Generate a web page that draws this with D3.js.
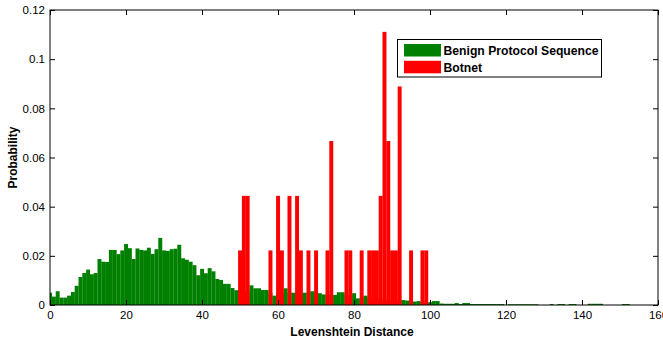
<!DOCTYPE html>
<html>
<head>
<meta charset="utf-8">
<script src="https://cdn.jsdelivr.net/npm/d3@7"></script>
<style>
  html, body { margin: 0; padding: 0; background: #fff; }
  svg { display: block; font-family: "Liberation Sans", Arial, Helvetica, sans-serif; }
</style>
</head>
<body>
<svg id="chart" width="663" height="341"></svg>
<script>
// ---- data ----
const seriesNames = ["Benign Protocol Sequence", "Botnet"];
const seriesColors = ["#008000", "#ff0000"];

// Benign: probability for Levenshtein distance 0,1,2,...
const benignValues = [
  0.0050, 0.0034, 0.0056, 0.0030, 0.0030, 0.0038, 0.0053, 0.0078, 0.0114, 0.0130,
  0.0144, 0.0125, 0.0130, 0.0187, 0.0176, 0.0175, 0.0224, 0.0224, 0.0207, 0.0222,
  0.0248, 0.0231, 0.0187, 0.0230, 0.0224, 0.0222, 0.0233, 0.0208, 0.0227, 0.0273,
  0.0222, 0.0220, 0.0227, 0.0229, 0.0245, 0.0190, 0.0184, 0.0176, 0.0162, 0.0121,
  0.0147, 0.0129, 0.0150, 0.0137, 0.0106, 0.0102, 0.0086, 0.0086, 0.0069, 0.0060,
  0.0060, 0.0058, 0.0057, 0.0080, 0.0068, 0.0068, 0.0061, 0.0061, 0.0050, 0.0038,
  0.0050, 0.0050, 0.0068, 0.0050, 0.0050, 0.0050, 0.0050, 0.0050, 0.0050, 0.0056,
  0.0050, 0.0048, 0.0043, 0.0040, 0.0040, 0.0041, 0.0052, 0.0052, 0.0040, 0.0040,
  0.0048, 0.0027, 0.0030, 0.0038, 0.0030, 0.0030, 0.0028, 0.0025, 0.0022, 0.0022,
  0.0020, 0.0020, 0.0020, 0.0020, 0.0018, 0.0015, 0.0014, 0.0016, 0.0012, 0.0012,
  0.0011, 0.0016, 0.0016, 0.0006, 0.0005, 0.0005, 0.0005, 0.0008, 0.0004, 0.0008,
  0.0008, 0.0004, 0.0004, 0.0004, 0.0004, 0.0004, 0.0004, 0.0004, 0.0004, 0.0004,
  0.0000, 0.0003, 0.0003, 0.0003, 0.0003, 0.0003, 0.0003, 0.0003, 0.0003, 0.0000,
  0.0000, 0.0000, 0.0004, 0.0000, 0.0004, 0.0004, 0.0000, 0.0004, 0.0004, 0.0000,
  0.0000, 0.0000, 0.0005, 0.0005, 0.0005, 0.0005, 0.0000, 0.0000, 0.0000, 0.0000,
  0.0000, 0.0004, 0.0004, 0.0000, 0.0000, 0.0000
];

// Botnet: distances present and their probabilities
const botnetDistances = [50, 51, 52, 58, 60, 61, 63, 65, 66, 68, 70, 73, 74, 78, 79,
  82, 84, 85, 86, 87, 88, 89, 90, 91, 92, 95, 98, 99];
const botnetValues = [0.0222, 0.0444, 0.0444, 0.0222, 0.0444, 0.0222, 0.0444, 0.0444,
  0.0222, 0.0222, 0.0222, 0.0222, 0.0667, 0.0222, 0.0222, 0.0222, 0.0222, 0.0222,
  0.0222, 0.0444, 0.1111, 0.0667, 0.0222, 0.0222, 0.0889, 0.0222, 0.0222, 0.0222];

const xTicks = [0, 20, 40, 60, 80, 100, 120, 140, 160];
const yTicks = [0, 0.02, 0.04, 0.06, 0.08, 0.1, 0.12];
const xTitle = "Levenshtein Distance";
const yTitle = "Probability";

// ---- layout ----
const L = 50, R = 658, T = 10, B = 305;
const svg = d3.select("#chart");

const x = d3.scaleLinear().domain([0, 160]).range([L, R]);
const y = d3.scaleLinear().domain([0, 0.12]).range([B, T]);

svg.append("defs").append("clipPath").attr("id", "plotclip")
  .append("rect").attr("x", L).attr("y", T).attr("width", R - L).attr("height", B - T);

const plot = svg.append("g").attr("clip-path", "url(#plotclip)");

const benign = benignValues.map((v, i) => ({ k: i, v }));
const botnet = botnetDistances.map((k, i) => ({ k, v: botnetValues[i] }));

function drawBars(data, color) {
  plot.append("g").selectAll("rect").data(data.filter(d => d.v > 0)).join("rect")
    .attr("x", d => x(d.k - 0.5))
    .attr("width", d => x(d.k + 0.5) - x(d.k - 0.5) + 0.15)
    .attr("y", d => y(d.v))
    .attr("height", d => y(0) - y(d.v))
    .attr("fill", color);
}
drawBars(benign, seriesColors[0]);
drawBars(botnet, seriesColors[1]);

// ---- axes ----
const fmtY = d => d === 0 ? "0" : d3.format("")(+d.toFixed(2));
const axisStyle = g => {
  g.selectAll(".domain").remove();
  g.selectAll(".tick line").attr("stroke", "#000");
  g.selectAll("text").attr("font-size", 11.5).attr("fill", "#000");
};

svg.append("g").attr("transform", `translate(0,${B})`)
  .call(d3.axisBottom(x).tickValues(xTicks).tickSize(-5).tickPadding(6).tickFormat(d3.format("d")))
  .call(axisStyle);
svg.append("g").attr("transform", `translate(0,${T})`)
  .call(d3.axisTop(x).tickValues(xTicks).tickSize(-5).tickFormat(""))
  .call(axisStyle);
svg.append("g").attr("transform", `translate(${L},0)`)
  .call(d3.axisLeft(y).tickValues(yTicks).tickSize(-5).tickPadding(5).tickFormat(fmtY))
  .call(axisStyle);
svg.append("g").attr("transform", `translate(${R},0)`)
  .call(d3.axisRight(y).tickValues(yTicks).tickSize(-5).tickFormat(""))
  .call(axisStyle);

// box
svg.append("rect").attr("x", L).attr("y", T).attr("width", R - L).attr("height", B - T)
  .attr("fill", "none").attr("stroke", "#000").attr("stroke-width", 1);

// titles
svg.append("text").attr("x", (L + R) / 2 - 2).attr("y", 336)
  .attr("text-anchor", "middle").attr("font-size", 12).attr("font-weight", "bold")
  .text(xTitle);
svg.append("text").attr("transform", `translate(17,${(T + B) / 2}) rotate(-90)`)
  .attr("text-anchor", "middle").attr("font-size", 12).attr("font-weight", "bold")
  .text(yTitle);

// ---- legend ----
const lg = svg.append("g");
lg.append("rect").attr("x", 397.5).attr("y", 39.5).attr("width", 204).attr("height", 37.5)
  .attr("fill", "#fff").attr("stroke", "#000").attr("stroke-width", 1);
seriesNames.forEach((name, i) => {
  lg.append("rect").attr("x", 404).attr("y", 44 + i * 16.8).attr("width", 37).attr("height", 12.5)
    .attr("fill", seriesColors[i]);
  lg.append("text").attr("x", 443.5).attr("y", 54.8 + i * 16.8)
    .attr("font-size", 12.2).attr("font-weight", "bold").text(name);
});
</script>
</body>
</html>
